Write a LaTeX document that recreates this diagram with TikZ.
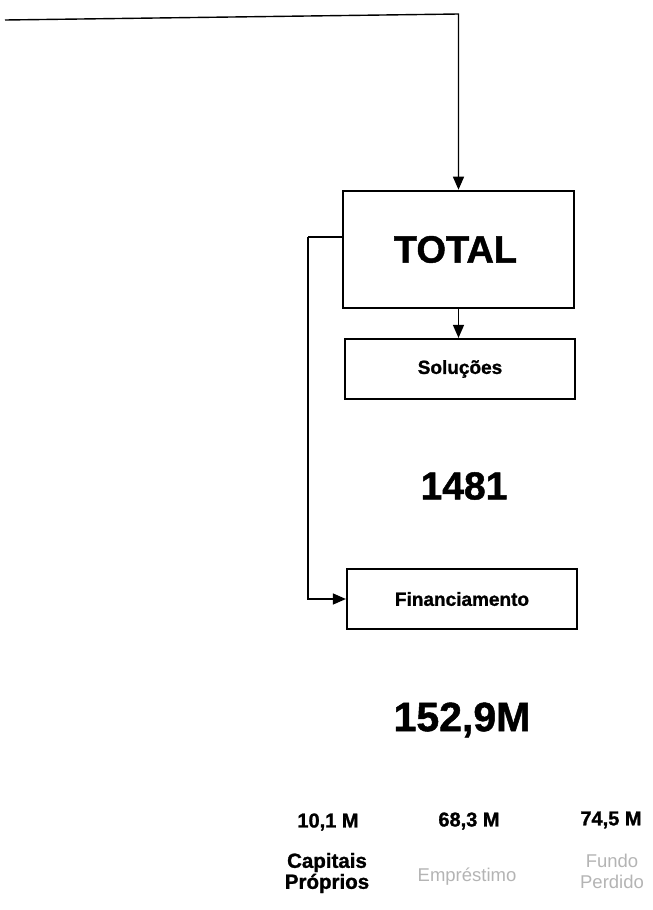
\documentclass[tikz,border=0pt]{standalone}
\usepackage{fontspec}
\setmainfont{Liberation Sans}
\newfontfamily\heavyfont[FakeBold=1.2]{Liberation Sans Bold}
\usetikzlibrary{arrows.meta}
\definecolor{lightgraytext}{HTML}{B4B4B4}
\tikzset{
  boxnode/.style={draw=black, line width=2.2pt, inner sep=0pt},
  conn/.style={draw=black, line width=1.4pt, -{Triangle[length=13pt,width=11pt]}},
  plain/.style={draw=black, line width=1.4pt},
  bignum/.style={font=\fontsize{39}{44}\selectfont\heavyfont},
  valtext/.style={font=\fontsize{20}{24}\selectfont\heavyfont},
  catdark/.style={font=\fontsize{20.5}{24}\selectfont\heavyfont, align=center},
  catlight/.style={font=\fontsize{18.5}{23}\selectfont, text=lightgraytext, align=center}
}
\begin{document}
\begin{tikzpicture}[x=1pt,y=-1pt]
\useasboundingbox (0,0) rectangle (653,910);
% boxes
\node[boxnode, line width=2.6pt, minimum width=231pt, minimum height=117pt,
      font=\fontsize{38}{42}\selectfont\heavyfont] (total) at (458.5,249.5) {\hspace*{-6pt}TOTAL};
\node[boxnode, minimum width=230pt, minimum height=60pt,
      font=\fontsize{19}{22}\selectfont\heavyfont] (sol) at (460,369) {Soluções};
\node[boxnode, minimum width=230pt, minimum height=60pt,
      font=\fontsize{19}{22}\selectfont\heavyfont] (fin) at (462,599) {Financiamento};
% numbers
\node[bignum] (n1481) at (464,486) {1481};
\node[bignum, font=\fontsize{41}{46}\selectfont\heavyfont] (n1529) at (462,720) {152,9M};
% values
\node[valtext] (v1) at (328,822) {10,1 M};
\node[valtext] (v2) at (469,821) {68,3 M};
\node[valtext] (v3) at (611,820) {74,5 M};
% categories
\node[catdark] (c1) at (327,873) {Capitais\\[-3pt]Próprios};
\node[catlight] (c2) at (467,877) {Empréstimo};
\node[catlight] (c3) at (612,871) {Fundo\\[-2pt]Perdido};
% connectors
\coordinate (start) at (5,20);
\coordinate (corner) at (total.north |- 0,14);
\draw[conn] (start) -- (corner) -- (total.north);
\draw[conn] (total.south) -- (total.south |- sol.north);
\coordinate (lc) at (308,237);
\draw[plain] (total.west |- lc) -- (lc);
\draw[conn] (lc) |- (fin.west);
\end{tikzpicture}
\end{document}
